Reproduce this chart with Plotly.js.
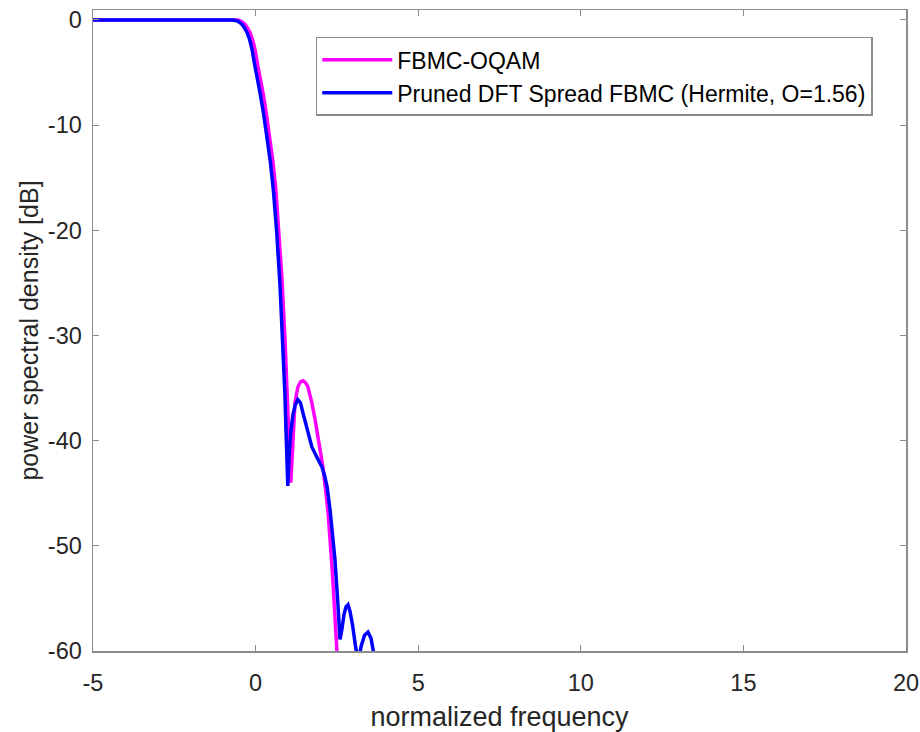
<!DOCTYPE html>
<html>
<head>
<meta charset="utf-8">
<script src="https://cdn.plot.ly/plotly-3.0.1.min.js"></script>
<style>html,body{margin:0;padding:0;background:#fff;}#chart{width:920px;height:732px;}</style>
</head>
<body>
<div id="chart"></div>
<script>
// FBMC-OQAM PSD
const freqOqam = [-5, -2, -1, -0.54, -0.43, -0.33, -0.25, -0.17, -0.09, -0.02, 0.07, 0.15, 0.227, 0.33, 0.43, 0.53, 0.62, 0.71, 0.81, 0.904, 0.96, 1.02, 1.08, 1.12, 1.16, 1.21, 1.30, 1.38, 1.46, 1.54, 1.61, 1.73, 1.83, 1.92, 2.07, 2.15, 2.23, 2.36, 2.51];
const psdOqam  = [0, 0, 0, 0, -0.15, -0.4, -0.75, -1.2, -1.9, -2.8, -4.4, -5.6, -6.9, -8.9, -11.0, -13.4, -16.0, -19.6, -24.6, -30.4, -35.5, -40.5, -44.0, -41.8, -38.8, -36.4, -34.9, -34.4, -34.3, -34.5, -34.9, -36.4, -38.0, -39.6, -42.5, -44.6, -46.9, -52.5, -60.5];

// Pruned DFT Spread FBMC (Hermite, O=1.56)
const freqPruned = [-5, -2, -1, -0.7, -0.55, -0.42, -0.34, -0.26, -0.18, -0.11, -0.02, 0.06, 0.135, 0.25, 0.35, 0.45, 0.55, 0.65, 0.75, 0.842, 0.9, 0.95, 0.99, 1.03, 1.08, 1.15, 1.22, 1.30, 1.38, 1.46, 1.54, 1.61, 1.73, 1.89, 2.04, 2.12, 2.2, 2.29, 2.44, 2.53, 2.595, 2.65, 2.72, 2.78, 2.841, 2.9, 2.98, 3.07, 3.15, 3.25, 3.35, 3.456, 3.55, 3.62, 3.68];
const psdPruned  = [0, 0, 0, 0, -0.1, -0.4, -0.75, -1.2, -1.9, -2.8, -4.4, -5.6, -6.9, -9.0, -11.1, -13.4, -16.3, -20.2, -25.2, -30.6, -35.5, -40.5, -44.3, -41.5, -39.2, -37.5, -36.6, -36.1, -36.4, -37.4, -38.4, -39.3, -40.6, -41.6, -42.5, -43.3, -44.4, -46.6, -51.3, -55.5, -58.9, -58.0, -56.5, -55.8, -55.6, -56.2, -57.5, -59.5, -61, -59.5, -58.5, -58.2, -58.8, -60, -61];

const xTicks = [-5, 0, 5, 10, 15, 20];
const yTicks = [-60, -50, -40, -30, -20, -10, 0];

const FONT = 'Liberation Sans, Arial, Helvetica, sans-serif';
const traces = [
  {x: freqOqam, y: psdOqam, type: 'scatter', mode: 'lines', name: 'FBMC-OQAM',
   line: {color: '#FF00FF', width: 3.5}},
  {x: freqPruned, y: psdPruned, type: 'scatter', mode: 'lines', name: 'Pruned DFT Spread FBMC (Hermite, O=1.56)',
   line: {color: '#0000FF', width: 3.5}}
];

const axisCommon = {
  showline: true, mirror: 'ticks', linecolor: '#8c8c8c', linewidth: 1.5,
  ticks: 'inside', ticklen: 6, tickcolor: '#8c8c8c', tickwidth: 1,
  showgrid: false, zeroline: false,
  tickfont: {family: FONT, size: 23.5, color: '#262626'}
};

const layout = {
  width: 920, height: 732,
  margin: {l: 93, r: 14, t: 10, b: 81},
  paper_bgcolor: '#fff', plot_bgcolor: '#fff',
  showlegend: true,
  xaxis: Object.assign({}, axisCommon, {
    range: [-5, 20], tickvals: xTicks, ticktext: xTicks.map(String),
    ticklabelstandoff: 10,
    title: {text: 'normalized frequency', font: {family: FONT, size: 27, color: '#262626'}, standoff: 12}
  }),
  yaxis: Object.assign({}, axisCommon, {
    range: [-60, 0.95], tickvals: yTicks, ticktext: yTicks.map(String),
    ticklabelstandoff: 5,
    title: {text: 'power spectral density [dB]', font: {family: FONT, size: 25, color: '#262626'}, standoff: 2}
  }),
  legend: {
    x: 0.274, y: 0.958, xanchor: 'left', yanchor: 'top',
    bgcolor: '#fff', bordercolor: '#8c8c8c', borderwidth: 1.5,
    font: {family: FONT, size: 23, color: '#000'},
    traceorder: 'normal', itemwidth: 70
  }
};

Plotly.newPlot('chart', traces, layout, {displayModeBar: false, staticPlot: true});
</script>
</body>
</html>
